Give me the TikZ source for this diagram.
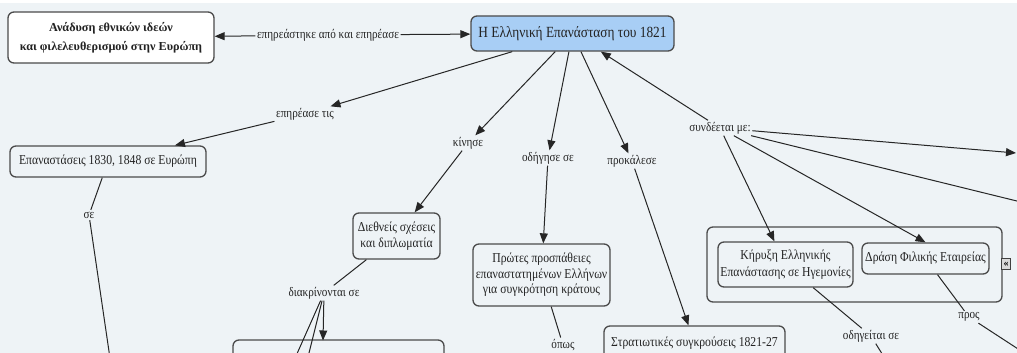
\documentclass[tikz,border=0pt]{standalone}
\usepackage{fontspec}
\setmainfont{Liberation Serif}
\newfontfamily\condfont{Liberation Serif}[FakeStretch=0.86]
\usetikzlibrary{arrows.meta}
\definecolor{bg}{RGB}{238,243,246}
\definecolor{mainblue}{RGB}{168,206,245}
\definecolor{edgec}{RGB}{75,75,75}
\definecolor{txt}{RGB}{35,35,35}
\begin{document}
\begin{tikzpicture}[x=1pt,y=-1pt,
  concept/.style={draw=edgec, line width=1.3pt, rounded corners=6pt, fill=bg, align=center,
    inner sep=0pt, font=\condfont\fontsize{13.6}{15.5}\selectfont, text=txt},
  lbl/.style={font=\condfont\fontsize{13}{14}\selectfont, inner sep=1.5pt, text=txt},
  conn/.style={draw=black!85, line width=1pt},
  arr/.style={conn, -{Triangle[length=10pt,width=8pt]}},
]
\useasboundingbox (0,0) rectangle (1017,353);
\clip (0,0) rectangle (1017,353);
\fill[bg] (0,0) rectangle (1017,353);
\fill[white] (0,0) rectangle (1017,3);

% concepts
\node[concept, fill=white, font=\bfseries\fontsize{12.2}{19}\selectfont,
  minimum width=206pt, minimum height=51pt] (A) at (111,37.5)
  {Ανάδυση εθνικών ιδεών\\και φιλελευθερισμού στην Ευρώπη};
\node[concept, fill=mainblue, font=\condfont\fontsize{15.5}{18}\selectfont,
  minimum width=203pt, minimum height=35pt] (main) at (572.5,33.5)
  {Η Ελληνική Επανάσταση του 1821};
\node[concept, minimum width=196pt, minimum height=31pt] (rev) at (108,161.5)
  {Επαναστάσεις 1830, 1848 σε Ευρώπη};
\node[concept, minimum width=87pt, minimum height=46pt] (dieth) at (396.5,236)
  {Διεθνείς σχέσεις\\και διπλωματία};
\node[concept, minimum width=137pt, minimum height=62pt] (protes) at (541.5,275)
  {Πρώτες προσπάθειες\\επαναστατημένων Ελλήνων\\για συγκρότηση κράτους};
\node[concept, minimum width=181pt, minimum height=34pt] (strat) at (694.5,343)
  {Στρατιωτικές συγκρούσεις 1821-27};
\node[concept, minimum width=211pt, minimum height=40pt] (bottombox) at (338.5,360) {};
\node[concept, minimum width=295pt, minimum height=75pt] (grp) at (854.5,264.5) {};
\node[concept, font=\condfont\fontsize{13.6}{17}\selectfont, minimum width=135pt, minimum height=45pt] (kiryxi) at (785.5,264.5)
  {Κήρυξη Ελληνικής\\Επανάστασης σε Ηγεμονίες};
\node[concept, minimum width=127pt, minimum height=31pt] (drasi) at (925.5,258.5)
  {Δράση Φιλικής Εταιρείας};
\node[draw=black!75, fill=black!15, line width=0.7pt, minimum width=9pt, minimum height=11pt,
  inner sep=0pt, font=\bfseries\fontsize{10}{10}\selectfont] (icon) at (1006,264) {«};

% linking phrases
\node[lbl] (l1) at (328,35) {επηρεάστηκε από και επηρέασε};
\node[lbl] (l2) at (305,114) {επηρέασε τις};
\node[lbl] (l3) at (89,215) {σε};
\node[lbl] (l4) at (468,143) {κίνησε};
\node[lbl] (l5) at (324,293) {διακρίνονται σε};
\node[lbl] (l6) at (548,158) {οδήγησε σε};
\node[lbl] (l7) at (563,345) {όπως};
\node[lbl] (l8) at (632,161) {προκάλεσε};
\node[lbl] (l9) at (720,128) {συνδέεται με:};
\node[lbl] (l10) at (871,336) {οδηγείται σε};
\node[lbl] (l11) at (969,317) {προς};

% free ends
\coordinate (e3) at (111,365);
\coordinate (e5a) at (292,365);
\coordinate (e5b) at (306,365);
\coordinate (e5c) at (323,340.5);
\coordinate (e9a) at (1016,153);
\coordinate (e9b) at (1025,203);
\coordinate (e10) at (889,365);
\coordinate (e11) at (1035,360);

% connectors
\draw[arr] (l1) -- (A);
\draw[arr] (l1) -- (main);
\draw[arr] (main) -- (l2);
\draw[arr] (l2) -- (rev);
\draw[conn] (rev) -- (l3);
\draw[conn] (l3) -- (e3);
\draw[arr] (main) -- (l4);
\draw[arr] (l4) -- (dieth);
\draw[conn] (dieth) -- (l5);
\draw[conn] (l5) -- (e5a);
\draw[conn] (l5) -- (e5b);
\draw[arr] (l5) -- (e5c);
\draw[arr] (main) -- (l6);
\draw[arr] (l6) -- (protes);
\draw[conn] (protes) -- (l7);
\draw[arr] (main) -- (l8);
\draw[arr] (l8) -- (strat);
\draw[arr] (l9) -- (main);
\draw[arr] (l9) -- (e9a);
\draw[conn] (l9) -- (e9b);
\draw[arr] (l9) -- (kiryxi);
\draw[arr] (l9) -- (drasi.north);
\draw[conn] (kiryxi) -- (l10);
\draw[conn] (l10) -- (e10);
\draw[conn] (drasi) -- (l11);
\draw[conn] (l11) -- (e11);
\end{tikzpicture}
\end{document}
